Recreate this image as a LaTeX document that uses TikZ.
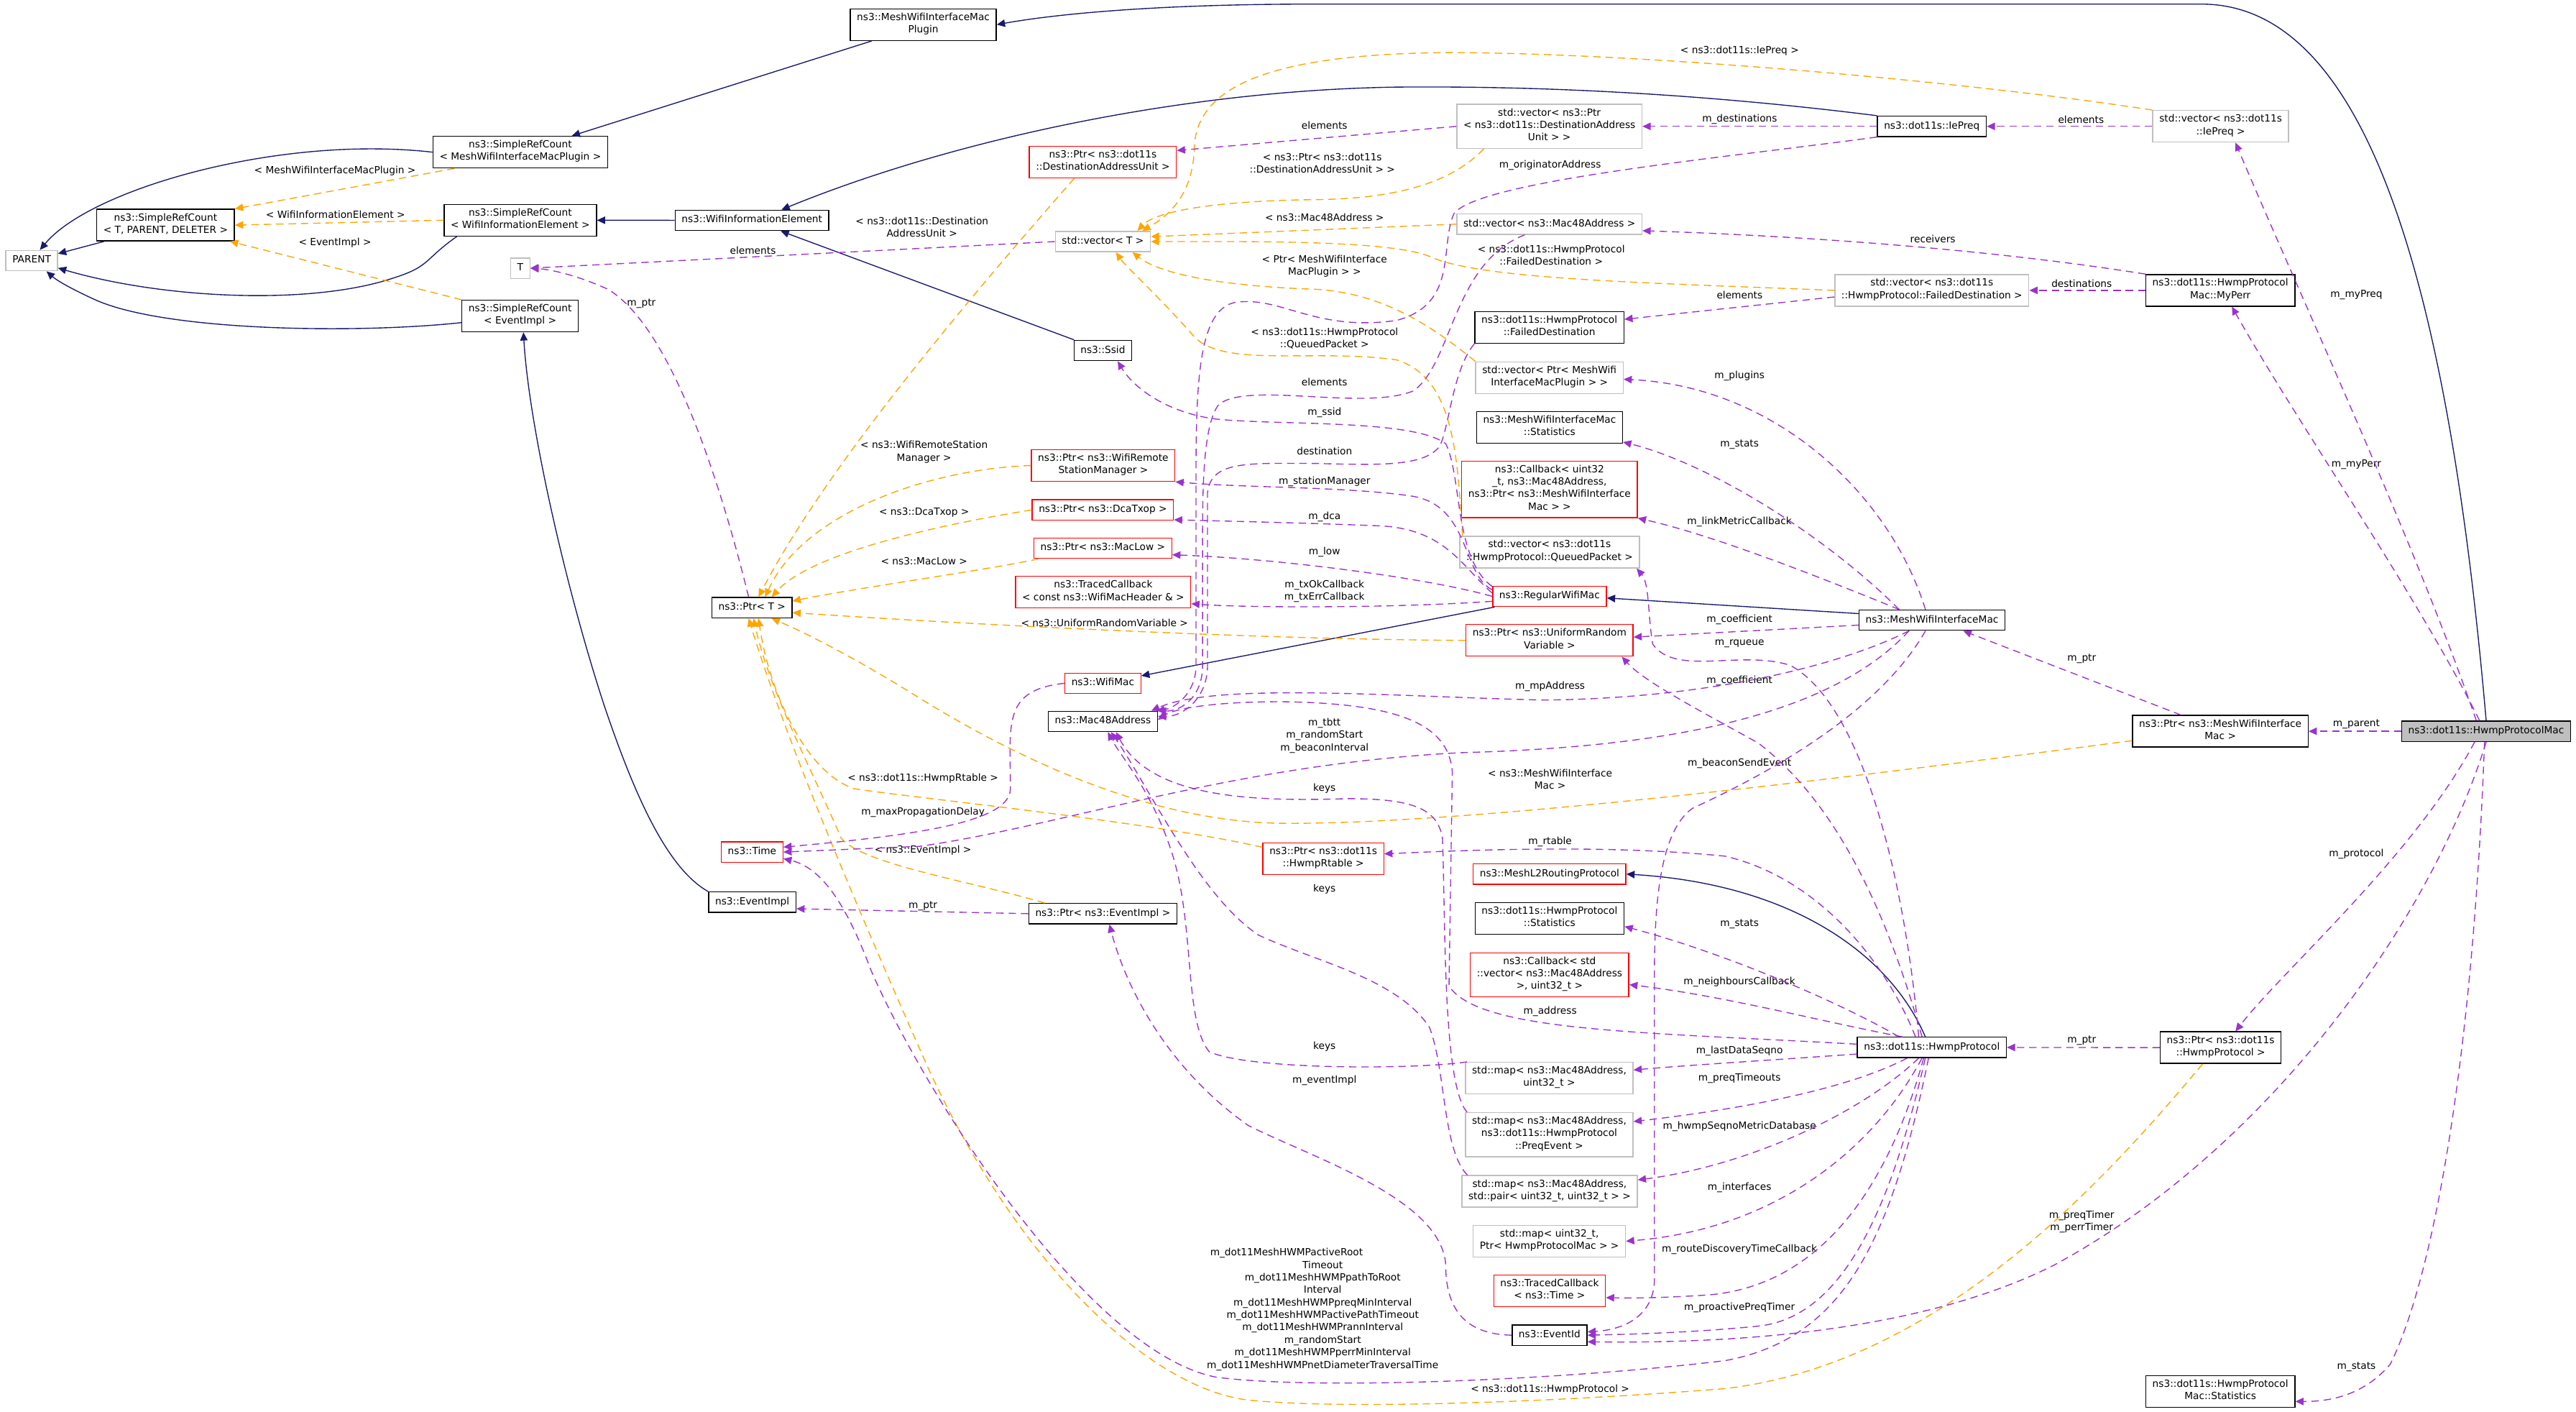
\documentclass[tikz,border=0pt]{standalone}
\usepackage{fontspec}
\setmainfont{DejaVu Sans}
\usetikzlibrary{arrows.meta}
\definecolor{inhcol}{HTML}{191970}
\definecolor{usecol}{HTML}{9A32CD}
\definecolor{tplcol}{HTML}{FFA500}
\definecolor{greybox}{HTML}{BFBFBF}

\begin{document}
\begin{tikzpicture}[x=1pt,y=-1pt,line width=.6pt,
  font=\fontsize{6}{7.6}\selectfont,
  cls/.style={draw=black,fill=white,rectangle,align=center,inner xsep=4pt,inner ysep=2.4pt,
    execute at begin node=\strut,execute at end node=\strut},
  ext/.style={cls,draw=greybox},
  bad/.style={cls,draw=red},
  lbl/.style={align=center,inner sep=0pt},
  inh/.style={draw=inhcol,-{Triangle[length=5pt,width=4.5pt]}},
  usage/.style={draw=usecol,dash pattern=on 4.5pt off 3pt,-{Triangle[length=5pt,width=4.5pt]}},
  tmpl/.style={draw=tplcol,dash pattern=on 4.5pt off 3pt,-{Triangle[length=5pt,width=4.5pt]}}]
\path[use as bounding box] (0,0) rectangle (1568,859);

% classes
\node[cls] (macplugin) at (562,15) {ns3::MeshWifiInterfaceMac\\Plugin};
\node[cls] (srcplugin) at (316.7,92.6) {ns3::SimpleRefCount\\< MeshWifiInterfaceMacPlugin >};
\node[cls] (srcbase) at (100.8,137) {ns3::SimpleRefCount\\< T, PARENT, DELETER >};
\node[ext] (parent) at (19.3,158.6) {PARENT};
\node[cls] (srcwie) at (316.7,134) {ns3::SimpleRefCount\\< WifiInformationElement >};
\node[cls] (wie) at (457.7,134.1) {ns3::WifiInformationElement};
\node[ext] (tpar) at (316.7,163.2) {T};
\node[cls] (srcevent) at (316.6,192.3) {ns3::SimpleRefCount\\< EventImpl >};
\node[bad] (ptrdau) at (671.3,98.6) {ns3::Ptr< ns3::dot11s\\::DestinationAddressUnit >};
\node[ext] (vecdau) at (943.1,76.9) {std::vector< ns3::Ptr\\< ns3::dot11s::DestinationAddress\\Unit > >};
\node[ext] (vect) at (671.3,147) {std::vector< T >};
\node[ext] (vecmac) at (943.1,136.4) {std::vector< ns3::Mac48Address >};
\node[cls] (faildest) at (943.1,199.3) {ns3::dot11s::HwmpProtocol\\::FailedDestination};
\node[ext] (vecplugin) at (943.1,229.8) {std::vector< Ptr< MeshWifi\\InterfaceMacPlugin > >};
\node[cls] (macstats) at (943.2,260) {ns3::MeshWifiInterfaceMac\\::Statistics};
\node[cls] (ssid) at (671.3,213.3) {ns3::Ssid};
\node[bad] (ptrrsm) at (671.5,283.3) {ns3::Ptr< ns3::WifiRemote\\StationManager >};
\node[bad] (linkcb) at (943.2,297.8) {ns3::Callback< uint32\\\_t, ns3::Mac48Address,\\ns3::Ptr< ns3::MeshWifiInterface\\Mac > >};
\node[cls] (iepreq) at (1175.9,76.9) {ns3::dot11s::IePreq};
\node[ext] (vecpreq) at (1351.7,76.9) {std::vector< ns3::dot11s\\::IePreq >};
\node[ext] (vecfail) at (1175.9,176.7) {std::vector< ns3::dot11s\\::HwmpProtocol::FailedDestination >};
\node[cls] (myperr) at (1351.5,176.7) {ns3::dot11s::HwmpProtocol\\Mac::MyPerr};
\node[cls,fill=greybox] (hpmac) at (1513.3,445) {ns3::dot11s::HwmpProtocolMac};
\node[cls] (meshmac) at (1176,377.4) {ns3::MeshWifiInterfaceMac};
\node[cls] (ptrmesh) at (1351.5,445) {ns3::Ptr< ns3::MeshWifiInterface\\Mac >};
\node[bad] (ptrdca) at (671.3,310.3) {ns3::Ptr< ns3::DcaTxop >};
\node[bad] (ptrlow) at (671.3,333.6) {ns3::Ptr< ns3::MacLow >};
\node[bad] (txcb) at (671.5,360.4) {ns3::TracedCallback\\< const ns3::WifiMacHeader \& >};
\node[bad] (regmac) at (943.2,362.9) {ns3::RegularWifiMac};
\node[ext] (vecqueue) at (943.2,336) {std::vector< ns3::dot11s\\::HwmpProtocol::QueuedPacket >};
\node[bad] (ptrurv) at (943.2,389.7) {ns3::Ptr< ns3::UniformRandom\\Variable >};
\node[bad] (wifimac) at (671.3,415.8) {ns3::WifiMac};
\node[cls] (mac48) at (671.3,439) {ns3::Mac48Address};
\node[bad] (ptrrtable) at (805.5,522.6) {ns3::Ptr< ns3::dot11s\\::HwmpRtable >};
\node[bad] (l2proto) at (943.2,531.9) {ns3::MeshL2RoutingProtocol};
\node[cls] (hpstats) at (943.2,558.8) {ns3::dot11s::HwmpProtocol\\::Statistics};
\node[cls] (ptrevent) at (671.3,556) {ns3::Ptr< ns3::EventImpl >};
\node[cls] (ptrt) at (457.7,369.8) {ns3::Ptr< T >};
\node[bad] (timecls) at (457.8,518.5) {ns3::Time};
\node[cls] (eventimpl) at (457.9,549) {ns3::EventImpl};
\node[bad] (nbcb) at (943.2,593.2) {ns3::Callback< std\\::vector< ns3::Mac48Address\\>, uint32\_t >};
\node[ext] (mapseq) at (943,656.1) {std::map< ns3::Mac48Address,\\uint32\_t >};
\node[ext] (mappreq) at (943,690.5) {std::map< ns3::Mac48Address,\\ns3::dot11s::HwmpProtocol\\::PreqEvent >};
\node[ext] (mappair) at (943.2,725) {std::map< ns3::Mac48Address,\\std::pair< uint32\_t, uint32\_t > >};
\node[ext] (mapif) at (943.1,755.3) {std::map< uint32\_t,\\Ptr< HwmpProtocolMac > >};
\node[bad] (routecb) at (943.2,785.6) {ns3::TracedCallback\\< ns3::Time >};
\node[cls] (eventid) at (943.2,812.5) {ns3::EventId};
\node[cls] (hwmp) at (1175.9,637.4) {ns3::dot11s::HwmpProtocol};
\node[cls] (ptrhwmp) at (1351.7,637.5) {ns3::Ptr< ns3::dot11s\\::HwmpProtocol >};
\node[cls] (macstats2) at (1351.5,846.8) {ns3::dot11s::HwmpProtocol\\Mac::Statistics};

% edge labels
\node[lbl] (l1) at (203.9,104.2) {< MeshWifiInterfaceMacPlugin >};
\node[lbl] (l2) at (204.2,130.7) {< WifiInformationElement >};
\node[lbl] (l3) at (203.9,147.9) {< EventImpl >};
\node[lbl] (l4) at (458.3,152.3) {elements};
\node[lbl] (l5) at (390.4,184.7) {m\_ptr};
\node[lbl] (l6) at (806.2,76.1) {elements};
\node[lbl] (l7) at (804.9,99.4) {< ns3::Ptr< ns3::dot11s\\::DestinationAddressUnit > >};
\node[lbl] (l8) at (943.5,100.7) {m\_originatorAddress};
\node[lbl] (l9) at (561.2,138.1) {< ns3::dot11s::Destination\\AddressUnit >};
\node[lbl] (l10) at (806.2,132.2) {< ns3::Mac48Address >};
\node[lbl] (l11) at (944.2,155.2) {< ns3::dot11s::HwmpProtocol\\::FailedDestination >};
\node[lbl] (l12) at (806.2,162.1) {< Ptr< MeshWifiInterface\\MacPlugin > >};
\node[lbl] (l13) at (806.2,205.9) {< ns3::dot11s::HwmpProtocol\\::QueuedPacket >};
\node[lbl] (l14) at (806.2,232.4) {elements};
\node[lbl] (l15) at (806.2,251.2) {m\_ssid};
\node[lbl] (l16) at (806.2,274.4) {destination};
\node[lbl] (l17) at (562.5,275.1) {< ns3::WifiRemoteStation\\Manager >};
\node[lbl] (l18) at (1058.9,31.1) {< ns3::dot11s::IePreq >};
\node[lbl] (l19) at (1058.9,72.5) {m\_destinations};
\node[lbl] (l20) at (1266.7,72.7) {elements};
\node[lbl] (l21) at (1176.5,145.5) {receivers};
\node[lbl] (l22) at (1267.1,172.5) {destinations};
\node[lbl] (l23) at (1058.9,179.6) {elements};
\node[lbl] (l24) at (1434.3,179.5) {m\_myPreq};
\node[lbl] (l25) at (1434.3,282.7) {m\_myPerr};
\node[lbl] (l26) at (1267.1,401) {m\_ptr};
\node[lbl] (l27) at (1434.3,440.6) {m\_parent};
\node[lbl] (l28) at (1434.3,519.7) {m\_protocol};
\node[lbl] (l29) at (806.2,293.2) {m\_stationManager};
\node[lbl] (l30) at (562.5,311.7) {< ns3::DcaTxop >};
\node[lbl] (l31) at (806.2,314.4) {m\_dca};
\node[lbl] (l32) at (806.2,335.8) {m\_low};
\node[lbl] (l33) at (562.5,341.5) {< ns3::MacLow >};
\node[lbl] (l34) at (806.2,359.9) {m\_txOkCallback\\m\_txErrCallback};
\node[lbl] (l35) at (672.3,379) {< ns3::UniformRandomVariable >};
\node[lbl] (l36) at (943.5,417.9) {m\_mpAddress};
\node[lbl] (l37) at (806.2,447.7) {m\_tbtt\\m\_randomStart\\m\_beaconInterval};
\node[lbl] (l38) at (943.5,474.1) {< ns3::MeshWifiInterface\\Mac >};
\node[lbl] (l39) at (806.2,479.6) {keys};
\node[lbl] (l40) at (561.8,473.5) {< ns3::dot11s::HwmpRtable >};
\node[lbl] (l41) at (561.8,494.3) {m\_maxPropagationDelay};
\node[lbl] (l42) at (561.8,517.3) {< ns3::EventImpl >};
\node[lbl] (l43) at (943.5,512.4) {m\_rtable};
\node[lbl] (l44) at (806.2,540.9) {keys};
\node[lbl] (l45) at (561.8,551.2) {m\_ptr};
\node[lbl] (l46) at (1058.8,228.8) {m\_plugins};
\node[lbl] (l47) at (1058.8,270.5) {m\_stats};
\node[lbl] (l48) at (1058.8,317.6) {m\_linkMetricCallback};
\node[lbl] (l49) at (1058.8,377) {m\_coefficient};
\node[lbl] (l50) at (1058.8,391.5) {m\_rqueue};
\node[lbl] (l51) at (1058.8,414.2) {m\_coefficient};
\node[lbl] (l52) at (1058.8,464.6) {m\_beaconSendEvent};
\node[lbl] (l53) at (1058.8,562.5) {m\_stats};
\node[lbl] (l54) at (1058.8,597.5) {m\_neighboursCallback};
\node[lbl] (l55) at (1058.8,639.4) {m\_lastDataSeqno};
\node[lbl] (l56) at (1058.8,656.3) {m\_preqTimeouts};
\node[lbl] (l57) at (1058.8,685.5) {m\_hwmpSeqnoMetricDatabase};
\node[lbl] (l58) at (1058.8,722.7) {m\_interfaces};
\node[lbl] (l59) at (1058.8,760.4) {m\_routeDiscoveryTimeCallback};
\node[lbl] (l60) at (1058.8,795.9) {m\_proactivePreqTimer};
\node[lbl] (l61) at (943.5,615.6) {m\_address};
\node[lbl] (l62) at (806.2,636.9) {keys};
\node[lbl] (l63) at (806.2,657.7) {m\_eventImpl};
\node[lbl] (l64) at (805.1,796.8) {m\_dot11MeshHWMPactiveRoot\hspace*{44pt}\\Timeout\\m\_dot11MeshHWMPpathToRoot\hspace*{44pt}\\Interval\\m\_dot11MeshHWMPpreqMinInterval\\m\_dot11MeshHWMPactivePathTimeout\\m\_dot11MeshHWMPrannInterval\\m\_randomStart\\m\_dot11MeshHWMPperrMinInterval\\m\_dot11MeshHWMPnetDiameterTraversalTime};
\node[lbl] (l65) at (943.5,845.4) {< ns3::dot11s::HwmpProtocol >};
\node[lbl] (l66) at (1267.1,633.2) {m\_ptr};
\node[lbl] (l67) at (1267.1,743.6) {m\_preqTimer\\m\_perrTimer};
\node[lbl] (l68) at (1434.3,832) {m\_stats};

% inheritance
\draw[inh] (hpmac.north) .. controls (1490,170) and (1440,2.5) .. (1340,2.5) -- (800,2.5) .. controls (700,2.5) and (640,9) .. (macplugin.east);
\draw[inh] (macplugin) -- (srcplugin);
\draw[inh] (srcplugin.west) .. controls (170,82) and (55,115) .. ([xshift=5pt]parent.north);
\draw[inh] (srcbase) -- (parent);
\draw[inh] ([xshift=8pt]srcwie.south west) .. controls (258,158) and (262,162) .. (240,169) .. controls (190,186) and (100,182) .. ([yshift=-4.5pt]parent.east);
\draw[inh] ([yshift=-4pt]srcevent.west) .. controls (220,203) and (100,202) .. (57,182) .. controls (44,176) and (35,171) .. ([xshift=9pt]parent.south);
\draw[inh] (wie) -- (srcwie);
\draw[inh] (iepreq.north west) .. controls (1060,60) and (960,52) .. (850,53) .. controls (720,55) and (580,85) .. ([xshift=18pt]wie.north);
\draw[inh] (ssid) -- (wie);
\draw[inh] (eventimpl.north west) .. controls (405,528) and (385,480) .. (368,430) .. controls (345,360) and (322,260) .. ([xshift=2pt]srcevent.south);
\draw[inh] (regmac) -- (wifimac);
\draw[inh] ([yshift=4pt]meshmac.west) -- ([yshift=-1pt]regmac.east);
\draw[inh] ([xshift=-4pt]hwmp.north) .. controls (1150,580) and (1090,538) .. (l2proto.east);

% template instances
\draw[tmpl] ([xshift=-40pt]srcplugin.south) -- (srcbase.north east);
\draw[tmpl] (srcwie.west) -- (srcbase.east);
\draw[tmpl] (srcevent.north west) -- ([xshift=-3pt]srcbase.south east);
\draw[tmpl] ([xshift=-40pt]vecdau.south) .. controls (880,115) and (840,121) .. (800,121.5) .. controls (750,122) and (705,127) .. ([xshift=21pt]vect.north);
\draw[tmpl] (vecpreq.north west) .. controls (1200,50) and (1000,32) .. (880,32) .. controls (780,33) and (728,50) .. (727,90) .. controls (726,120) and (710,132) .. ([xshift=24pt]vect.north);
\draw[tmpl] (vecmac.west) -- ([yshift=3pt]vect.east);
\draw[tmpl] (vecfail.west) .. controls (1000,172) and (900,170) .. (870,156) .. controls (845,146) and (760,147) .. (vect.east);
\draw[tmpl] (vecplugin.north west) .. controls (870,197) and (840,178) .. (800,176) .. controls (740,174) and (705,166) .. ([xshift=18pt]vect.south);
\draw[tmpl] ([xshift=-53pt]vecqueue.north) .. controls (887,280) and (886,230) .. (850,219) .. controls (800,212) and (745,224) .. (727,205) .. controls (705,180) and (685,162) .. ([xshift=8pt]vect.south);
\draw[tmpl] ([xshift=-17.4pt]ptrdau.south) .. controls (600,170) and (505,280) .. ([xshift=4pt]ptrt.north);
\draw[tmpl] (ptrrsm.west) .. controls (570,285) and (490,310) .. ([xshift=8pt]ptrt.north);
\draw[tmpl] (ptrdca.west) .. controls (580,318) and (495,335) .. ([xshift=12pt]ptrt.north);
\draw[tmpl] ([xshift=3pt]ptrlow.south west) .. controls (600,347) and (520,358) .. ([yshift=4pt]ptrt.east);
\draw[tmpl] (ptrurv.west) .. controls (750,389) and (560,378) .. ([yshift=-3pt]ptrt.east);
\draw[tmpl] ([yshift=-5.7pt]ptrmesh.west) .. controls (1150,470) and (900,502) .. (780,501) .. controls (700,500) and (620,462) .. (560,425) .. controls (520,400) and (490,385) .. ([xshift=12pt]ptrt.south);
\draw[tmpl] ([yshift=7pt]ptrrtable.west) .. controls (700,500) and (560,486) .. (520,480) .. controls (490,470) and (468,420) .. ([xshift=4pt]ptrt.south);
\draw[tmpl] ([xshift=10pt]ptrevent.north west) .. controls (590,536) and (525,526) .. (512,510) .. controls (495,470) and (468,420) .. ([xshift=1pt]ptrt.south);
\draw[tmpl] ([xshift=-11pt]ptrhwmp.south) .. controls (1280,720) and (1180,830) .. (1050,845) .. controls (950,853) and (820,858) .. (760,852) .. controls (700,845) and (620,770) .. (565,650) .. controls (525,560) and (478,450) .. ([xshift=-2pt]ptrt.south);

% usage
\draw[usage] (vecdau.west) -- ([yshift=7pt]ptrdau.east);
\draw[usage] (iepreq.west) -- (vecdau.east);
\draw[usage] (vecpreq.west) -- (iepreq.east);
\draw[usage] (iepreq.south west) .. controls (1050,96) and (900,110) .. (885,130) .. controls (876,150) and (888,185) .. (850,195) .. controls (800,202) and (780,180) .. (752,184) .. controls (730,188) and (728,230) .. (728,290) -- (728,405) .. controls (728,422) and (715,431) .. ([xshift=-1pt]mac48.north east);
\draw[usage] (myperr.north west) .. controls (1200,150) and (1080,143) .. ([yshift=-4pt]vecmac.east);
\draw[usage] (myperr.west) -- (vecfail.east);
\draw[usage] ([yshift=-4pt]vecfail.west) -- ([yshift=5pt]faildest.east);
\draw[usage] ([xshift=-6pt]hpmac.north) .. controls (1470,330) and (1400,180) .. ([xshift=9pt]vecpreq.south);
\draw[usage] ([xshift=-4pt]hpmac.north) .. controls (1470,360) and (1400,260) .. ([xshift=7pt]myperr.south);
\draw[usage] (hpmac.west) -- (ptrmesh.east);
\draw[usage] ([xshift=-24pt]ptrmesh.north) -- ([xshift=19pt]meshmac.south);
\draw[usage] ([xshift=-7pt]hpmac.south) .. controls (1470,520) and (1390,590) .. ([xshift=9pt]ptrhwmp.north);
\draw[usage] (hpmac.south) .. controls (1480,560) and (1380,700) .. (1250,770) .. controls (1180,805) and (1080,818) .. ([yshift=-4pt]eventid.east);
\draw[usage] ([xshift=-1pt]hpmac.south) .. controls (1505,650) and (1480,780) .. (1455,830) .. controls (1440,848) and (1420,853) .. ([yshift=-6pt]macstats2.east);
\draw[usage] (ptrhwmp.west) -- (hwmp.east);
\draw[usage] ([xshift=-4pt]meshmac.north) .. controls (1150,300) and (1080,235) .. ([yshift=-1pt]vecplugin.east);
\draw[usage] ([xshift=-20pt]meshmac.north) .. controls (1110,325) and (1040,282) .. ([yshift=-9pt]macstats.east);
\draw[usage] ([xshift=-20pt]meshmac.north) .. controls (1100,348) and (1040,325) .. (linkcb.south east);
\draw[usage] ([yshift=-3pt]meshmac.west) -- ([yshift=2pt]ptrurv.east);
\draw[usage] ([xshift=-14pt]meshmac.south) .. controls (1120,405) and (1040,425) .. (940,426) .. controls (850,424) and (740,415) .. ([xshift=-4pt]mac48.north east);
\draw[usage] ([xshift=-14pt]meshmac.south) .. controls (1110,440) and (1000,455) .. (890,458) .. controls (750,465) and (650,502) .. (560,515) -- (timecls.east);
\draw[usage] ([xshift=-4pt]meshmac.south) .. controls (1140,440) and (1060,478) .. (1030,492) .. controls (1008,508) and (1007,560) .. (1007,600) -- (1007,780) .. controls (1006,800) and (990,809) .. ([yshift=2pt]eventid.east);
\draw[usage] ([xshift=-8pt]hwmp.north) .. controls (1160,540) and (1135,430) .. (1090,405) .. controls (1060,395) and (1020,412) .. (1006,392) .. controls (1003,375) and (1004,355) .. ([xshift=-2pt]vecqueue.south east);
\draw[usage] ([xshift=-6pt]hwmp.north) .. controls (1150,560) and (1120,490) .. (1070,452) .. controls (1030,430) and (1000,414) .. ([xshift=44pt]ptrurv.south);
\draw[usage] ([yshift=2pt]hwmp.west) .. controls (1000,628) and (900,628) .. (882,600) -- (884,470) .. controls (882,440) and (850,428) .. (780,427) .. controls (740,427) and (715,431) .. ([yshift=1pt]mac48.east);
\draw[usage] ([xshift=-10pt]hwmp.north) .. controls (1150,590) and (1110,535) .. (1050,521) .. controls (980,514) and (900,517) .. ([yshift=3pt]ptrrtable.east);
\draw[usage] ([xshift=-20pt]hwmp.north) .. controls (1120,610) and (1050,580) .. ([yshift=-5pt]hpstats.east);
\draw[usage] ([xshift=-18pt]hwmp.north) .. controls (1110,622) and (1050,606) .. ([yshift=-6pt]nbcb.east);
\draw[usage] ([yshift=-4pt]hwmp.west) .. controls (1080,645) and (1030,648) .. ([yshift=5pt]mapseq.east);
\draw[usage] ([xshift=-15pt]hwmp.south) .. controls (1120,665) and (1050,676) .. ([yshift=8pt]mappreq.east);
\draw[usage] ([xshift=-8pt]hwmp.south) .. controls (1130,680) and (1060,710) .. ([yshift=7pt]mappair.east);
\draw[usage] ([xshift=-6pt]hwmp.south) .. controls (1140,700) and (1080,748) .. (mapif.east);
\draw[usage] ([xshift=-5pt]hwmp.south) .. controls (1150,720) and (1110,782) .. (1040,788) .. controls (1010,790) and (990,790) .. ([yshift=-4pt]routecb.east);
\draw[usage] ([xshift=-4pt]hwmp.south) .. controls (1150,740) and (1120,802) .. (1070,807) .. controls (1030,811) and (990,812) .. (eventid.east);
\draw[usage] ([xshift=-2pt]hwmp.south) .. controls (1150,760) and (1120,815) .. (1050,828) .. controls (950,840) and (800,846) .. (740,838) .. controls (660,822) and (560,660) .. (530,590) .. controls (515,550) and (500,528) .. ([yshift=-4pt]timecls.east);
\draw[usage] ([xshift=-50pt]mapseq.north) .. controls (860,651) and (760,651) .. (736,640) .. controls (720,620) and (728,560) .. (712,515) .. controls (700,480) and (682,460) .. ([xshift=3pt]mac48.south);
\draw[usage] ([xshift=-50pt]mappreq.north) .. controls (878,660) and (880,560) .. (878,510) .. controls (875,492) and (860,486) .. (820,486) .. controls (760,488) and (700,485) .. ([xshift=8pt]mac48.south);
\draw[usage] ([xshift=-50pt]mappair.north) .. controls (878,700) and (880,650) .. (870,625) .. controls (850,595) and (800,585) .. (766,569) .. controls (730,545) and (700,480) .. ([xshift=5pt]mac48.south);
\draw[usage] ([xshift=-15pt]vecmac.south) .. controls (884,160) and (884,222) .. (860,238) .. controls (830,250) and (760,232) .. (742,246) .. controls (732,258) and (732,300) .. (732,330) -- (732,405) .. controls (732,425) and (718,433) .. (mac48.north east);
\draw[usage] (faildest.south west) .. controls (884,225) and (882,262) .. (876,272) .. controls (866,284) and (840,283) .. (800,282) .. controls (760,282) and (737,280) .. (735,300) -- (735,405) .. controls (735,425) and (720,436) .. ([yshift=3pt]mac48.east);
\draw[usage] ([yshift=6pt]regmac.west) .. controls (885,340) and (890,290) .. (880,270) .. controls (860,255) and (780,259) .. (740,255) .. controls (710,251) and (690,236) .. ([xshift=9pt]ssid.south);
\draw[usage] ([yshift=4pt]regmac.west) .. controls (890,350) and (895,308) .. (860,302) .. controls (820,296) and (760,297) .. (ptrrsm.south east);
\draw[usage] ([yshift=2pt]regmac.west) .. controls (890,345) and (880,322) .. (840,320) .. controls (790,318) and (740,317) .. ([yshift=-6pt]ptrdca.east);
\draw[usage] (regmac.west) .. controls (870,352) and (780,340) .. ([yshift=-4pt]ptrlow.east);
\draw[usage] ([yshift=-3pt]regmac.west) .. controls (850,370) and (760,370) .. ([yshift=-7pt]txcb.east);
\draw[usage] (wifimac.west) .. controls (610,420) and (615,440) .. (615,480) .. controls (615,500) and (560,508) .. ([yshift=3pt]timecls.east);
\draw[usage] (ptrevent.west) -- ([yshift=-4pt]eventimpl.east);
\draw[usage] (eventid.west) .. controls (895,812) and (880,800) .. (880,770) .. controls (878,730) and (800,705) .. (760,685) .. controls (710,650) and (685,600) .. ([xshift=4pt]ptrevent.south);
\draw[usage] (vect.west) -- (tpar.east);
\draw[usage] ([xshift=-2pt]ptrt.north) .. controls (440,300) and (410,200) .. (370,176) .. controls (350,167) and (335,164) .. (tpar.east);
\end{tikzpicture}
\end{document}
